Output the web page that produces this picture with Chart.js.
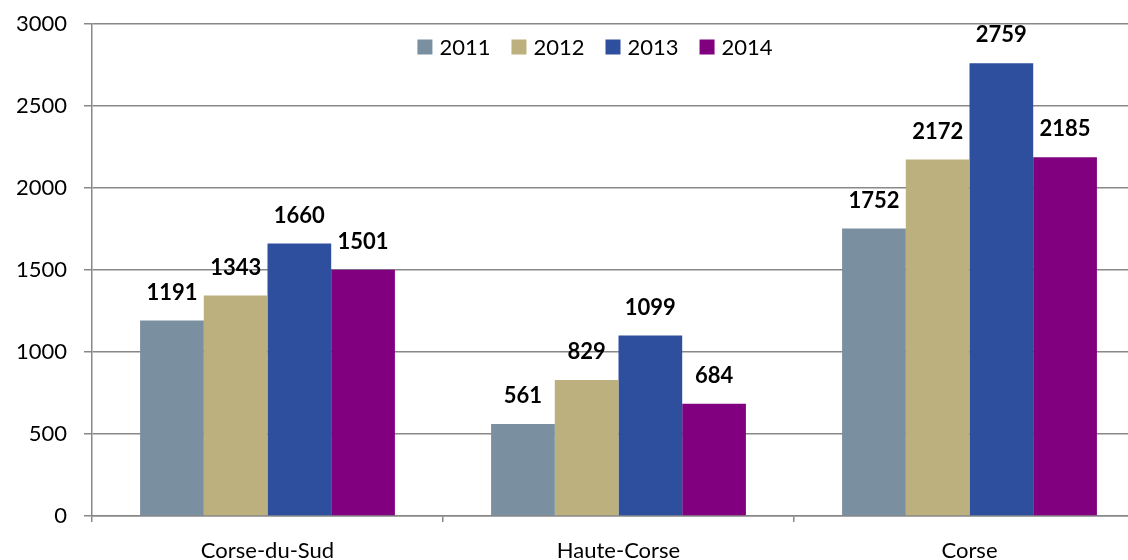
<!DOCTYPE html>
<html>
<head>
<meta charset="utf-8">
<script src="https://cdn.jsdelivr.net/npm/chart.js@4"></script>
<style>
  html, body { margin: 0; padding: 0; background: #fff; overflow: hidden; width: 1128px; height: 560px; }
  #wrap { width: 1145px; height: 560px; }
</style>
</head>
<body>
<div id="wrap"><canvas id="c" width="1145" height="560"></canvas></div>
<script>
const categories = ['Corse-du-Sud', 'Haute-Corse', 'Corse'];
const seriesNames = ['2011', '2012', '2013', '2014'];
const values2011 = [1191, 561, 1752];
const values2012 = [1343, 829, 2172];
const values2013 = [1660, 1099, 2759];
const values2014 = [1501, 684, 2185];
const colors = ['#7a8f9f', '#bcb07e', '#2e4f9e', '#800080'];
const yTicks = [0, 500, 1000, 1500, 2000, 2500, 3000];

const FONT = 'Lato, "Liberation Sans", sans-serif';

const seriesValues = [values2011, values2012, values2013, values2014];

const labelPlugin = {
  id: 'barLabels',
  afterDatasetsDraw(chart) {
    const ctx = chart.ctx;
    ctx.save();
    ctx.font = 'bold 22px ' + FONT;
    ctx.fillStyle = '#000';
    ctx.textAlign = 'center';
    ctx.textBaseline = 'middle';
    chart.data.datasets.forEach((ds, i) => {
      const meta = chart.getDatasetMeta(i);
      meta.data.forEach((bar, j) => {
        ctx.fillText(String(ds.data[j]), bar.x, bar.y - 28);
      });
    });
    ctx.restore();
  }
};

const legendPlugin = {
  id: 'innerLegend',
  afterDraw(chart) {
    const ctx = chart.ctx;
    ctx.save();
    ctx.font = '22px ' + FONT;
    ctx.textBaseline = 'middle';
    ctx.textAlign = 'left';
    const box = 15, gapText = 7, gapItem = 21;
    const items = chart.data.datasets.map(ds => ({ label: ds.label, color: ds.backgroundColor, w: ctx.measureText(ds.label).width }));
    const total = items.reduce((s, it) => s + box + gapText + it.w, 0) + gapItem * (items.length - 1);
    let x = 595 - total / 2;
    const yc = 47;
    items.forEach(it => {
      ctx.fillStyle = it.color;
      ctx.fillRect(x, yc - box / 2, box, box);
      x += box + gapText;
      ctx.fillStyle = '#000';
      ctx.fillText(it.label, x, yc + 1);
      x += it.w + gapItem;
    });
    ctx.restore();
  }
};

new Chart(document.getElementById('c'), {
  type: 'bar',
  data: {
    labels: categories,
    datasets: seriesNames.map((n, i) => ({
      label: n,
      data: seriesValues[i],
      backgroundColor: colors[i],
      borderWidth: 0,
      categoryPercentage: 0.726,
      barPercentage: 1.0
    }))
  },
  options: {
    responsive: false,
    animation: false,
    devicePixelRatio: 1,
    layout: { padding: { top: 0, right: 0, bottom: 0, left: 0 } },
    plugins: {
      legend: { display: false },
      tooltip: { enabled: false }
    },
    scales: {
      x: {
        grid: { drawOnChartArea: false, drawTicks: true, tickLength: 6, color: '#888888', lineWidth: 1.5, offset: true },
        border: { color: '#888888', width: 1.5 },
        ticks: { font: { family: FONT, size: 22 }, color: '#000', padding: 16, maxRotation: 0 },
        afterFit(scale) { scale.height = 44; }
      },
      y: {
        min: 0,
        max: 3000,
        afterBuildTicks(scale) { scale.ticks = yTicks.map(v => ({ value: v })); },
        grid: { color: '#888888', lineWidth: 1.5, tickLength: 8 },
        border: { color: '#888888', width: 1.5 },
        ticks: { font: { family: FONT, size: 22, lineHeight: 0.6 }, color: '#000', padding: 17, callback: v => String(v) },
        afterFit(scale) { scale.width = 92; }
      }
    }
  },
  plugins: [labelPlugin, legendPlugin]
});
</script>
</body>
</html>
